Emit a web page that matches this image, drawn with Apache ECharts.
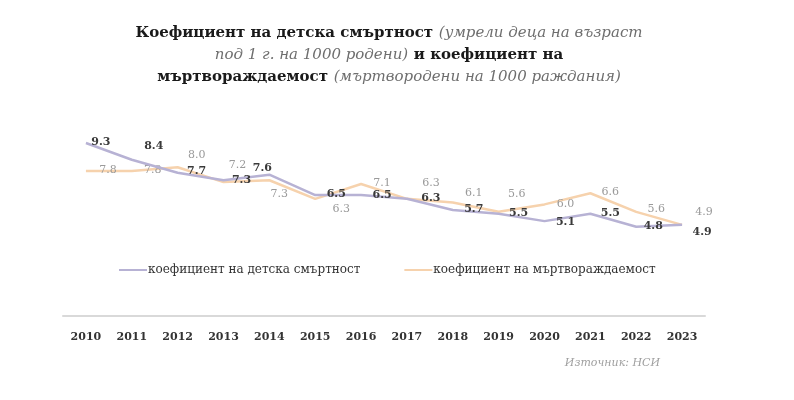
<!DOCTYPE html>
<html><head><meta charset="utf-8">
<script src="https://cdn.jsdelivr.net/npm/echarts@6/dist/echarts.min.js"></script>
<style>html,body{margin:0;padding:0;background:#fff}#c{width:794px;height:400px}</style>
</head><body><div id="c"></div>
<script>
const years = ['2010','2011','2012','2013','2014','2015','2016','2017','2018','2019','2020','2021','2022','2023'];
const infantMortality = [9.3, 8.4, 7.7, 7.3, 7.6, 6.5, 6.5, 6.3, 5.7, 5.5, 5.1, 5.5, 4.8, 4.9];
const stillbirth = [7.8, 7.8, 8.0, 7.2, 7.3, 6.3, 7.1, 6.3, 6.1, 5.6, 6.0, 6.6, 5.6, 4.9];
const seriesNames = ['коефициент на детска смъртност', 'коефициент на мъртвораждаемост'];
// label offsets (px) relative to the point
const infantLabelOffsets = [[15,-1],[22,-14],[19,-2],[18,0],[-7,-6],[21,-1],[21,0],[24,-1],[21,-1],[20,-1],[21,1],[20,-1],[17,-1],[20,7]];
const stillLabelOffsets = [[22,-1],[21,-1],[19,-12],[14,-17],[10,14],[26,10],[21,-1],[24,-16],[21,-9],[18,-18],[21,0],[20,-1],[20,-3],[22,-13]];

function items(vals, offs){
  return vals.map((v,i)=>({value:v,label:{offset:offs[i]}}));
}
const chart = echarts.init(document.getElementById('c'));
const serif = '"DejaVu Serif","Liberation Serif",serif';
chart.setOption({
  animation:false,
  title:{
    left:384, top:17, textAlign:'center',
    text:'{b|Коефициент на детска смъртност} {i|(умрели деца на възраст}\n{i|под 1 г. на 1000 родени)} {b|и коефициент на}\n{b|мъртвораждаемост} {i|(мъртвородени на 1000 раждания)}',
    textStyle:{
      fontFamily:serif, lineHeight:22, fontWeight:'normal',
      rich:{
        b:{fontFamily:serif,fontWeight:'bold',fontSize:15,color:'#1a1a1a',lineHeight:22},
        i:{fontFamily:serif,fontWeight:'normal',fontStyle:'italic',fontSize:15,color:'#6e6e6e',lineHeight:22}
      }
    }
  },
  graphic:[{type:'text',right:134,top:358,style:{text:'Източник: НСИ',font:'italic 11px '+serif,fill:'#a0a0a0'}}],
  legend:{
    top:259, left:114, itemGap:44, itemWidth:28, itemHeight:2,
    icon:'rect',
    textStyle:{fontFamily:serif,fontSize:12,color:'#333',padding:[0,0,0,-4]},
    data:seriesNames
  },
  grid:{left:63,right:89,top:130,bottom:84},
  xAxis:{
    type:'category', data:years, boundaryGap:true,
    axisLine:{lineStyle:{color:'#d9d9d9',width:2}},
    axisTick:{show:false},
    axisLabel:{fontFamily:serif,fontWeight:'bold',fontSize:11,color:'#333',margin:16}
  },
  yAxis:{type:'value',min:0,max:10,show:false,splitLine:{show:false}},
  series:[
    {name:seriesNames[0],type:'line',data:items(infantMortality,infantLabelOffsets),
     symbol:'circle',symbolSize:0,showSymbol:true,z:3,
     lineStyle:{color:'#b7b2d4',width:2.5},itemStyle:{color:'#b7b2d4'},
     label:{show:true,position:'inside',fontFamily:serif,fontWeight:'bold',fontSize:11,color:'#3a3a3a',formatter:p=>p.value.toFixed(1)}},
    {name:seriesNames[1],type:'line',data:items(stillbirth,stillLabelOffsets),
     symbol:'circle',symbolSize:0,showSymbol:true,z:2,
     lineStyle:{color:'#f6d2ad',width:2.5},itemStyle:{color:'#f6d2ad'},
     label:{show:true,position:'inside',fontFamily:serif,fontSize:11,color:'#9a9a9a',formatter:p=>p.value.toFixed(1)}}
  ]
});
</script></body></html>
